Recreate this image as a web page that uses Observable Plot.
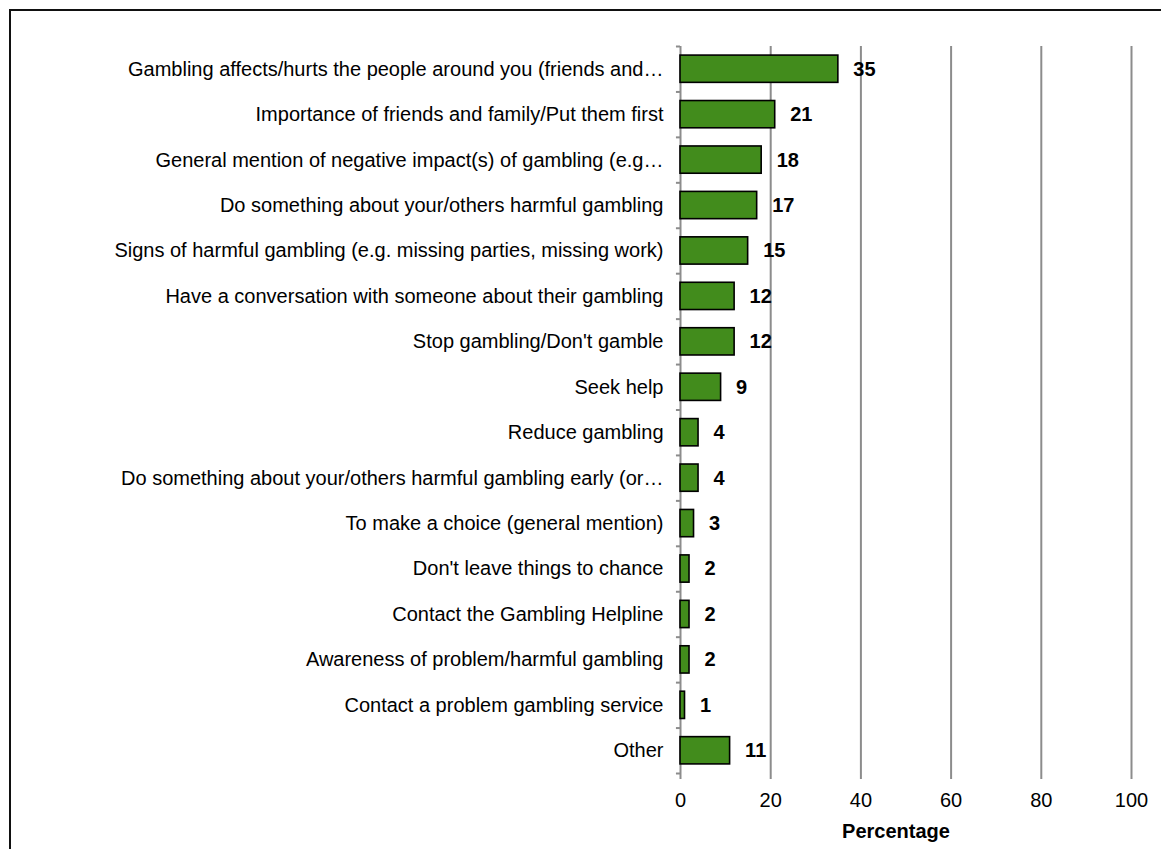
<!DOCTYPE html>
<html>
<head>
<meta charset="utf-8">
<script src="https://cdn.jsdelivr.net/npm/d3@7"></script>
<script src="https://cdn.jsdelivr.net/npm/@observablehq/plot@0.6"></script>
<style>
  html, body { margin: 0; padding: 0; background: #fff; }
  #wrap { position: relative; width: 1161px; height: 849px; overflow: hidden; }
  #frame { position: absolute; left: 9px; top: 9px; width: 1300px; height: 1000px; border-left: 2px solid #111; border-top: 2px solid #111; box-sizing: border-box; }
  #chart { position: absolute; left: 0; top: 0; }
</style>
</head>
<body>
<div id="wrap"><div id="frame"></div><div id="chart"></div></div>
<script>
const categories = [
  "Gambling affects/hurts the people around you (friends and\u2026",
  "Importance of friends and family/Put them first",
  "General mention of negative impact(s) of gambling (e.g\u2026",
  "Do something about your/others harmful gambling",
  "Signs of harmful gambling (e.g. missing parties, missing work)",
  "Have a conversation with someone about their gambling",
  "Stop gambling/Don't gamble",
  "Seek help",
  "Reduce gambling",
  "Do something about your/others harmful gambling early (or\u2026",
  "To make a choice (general mention)",
  "Don't leave things to chance",
  "Contact the Gambling Helpline",
  "Awareness of problem/harmful gambling",
  "Contact a problem gambling service",
  "Other"
];
const values = [35, 21, 18, 17, 15, 12, 12, 9, 4, 4, 3, 2, 2, 2, 1, 11];
const xTicks = [0, 20, 40, 60, 80, 100];

const data = categories.map((c, i) => ({category: c, value: values[i]}));

const W = 1161, H = 849;
const mTop = 46, mBottom = 76, mLeft = 680, mRight = 30;
const step = (H - mTop - mBottom) / categories.length;
const gray = "#8c8c8c";
const fs = 20;

const chart = Plot.plot({
  width: W,
  height: H,
  marginTop: mTop,
  marginBottom: mBottom,
  marginLeft: mLeft,
  marginRight: mRight,
  style: {fontFamily: "Liberation Sans, Arial, sans-serif", fontSize: fs + "px", color: "#000", background: "transparent"},
  x: {domain: [0, 100]},
  y: {domain: categories, paddingInner: 0.4, paddingOuter: 0.2, round: false},
  marks: [
    Plot.gridX(xTicks, {stroke: gray, strokeOpacity: 1, strokeWidth: 2}),
    Plot.axisX(xTicks, {tickSize: 6, tickPadding: 13, stroke: gray, strokeWidth: 2, label: null, fontSize: fs, tickFormat: d => String(d)}),
    Plot.axisY({tickSize: 0, tickPadding: 17, label: null, fontSize: fs}),
    Plot.ruleY(categories, {y: d => d, x1: -0.9, x2: 0, dy: -step / 2, stroke: gray, strokeWidth: 2, clip: false}),
    Plot.ruleY([categories[categories.length - 1]], {y: d => d, x1: -0.9, x2: 0, dy: step / 2, stroke: gray, strokeWidth: 2}),
    Plot.barX(data, {y: "category", x1: 0, x2: "value", fill: "#428c1c", stroke: "#000", strokeWidth: 1.6}),
    Plot.ruleX([0], {y1: categories[0], y2: categories[categories.length - 1], stroke: gray, strokeWidth: 2, insetTop: -step / 2, insetBottom: -step / 2 - 6}),
    Plot.text(data, {y: "category", x: "value", text: d => String(d.value), textAnchor: "start", dx: 15, fontWeight: "bold", fontSize: fs, fill: "#000"}),
    Plot.text(["Percentage"], {frameAnchor: "bottom", text: d => d, dy: 64, dx: -10, fontWeight: "bold", fontSize: fs, fill: "#000"})
  ]
});
document.getElementById("chart").appendChild(chart);
</script>
</body>
</html>
